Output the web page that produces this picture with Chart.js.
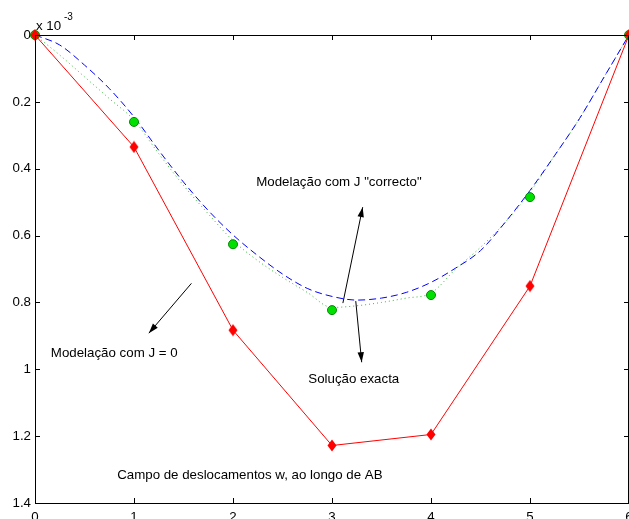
<!DOCTYPE html>
<html>
<head>
<meta charset="utf-8">
<script src="https://cdn.jsdelivr.net/npm/chart.js@4/dist/chart.umd.min.js"></script>
<style>
html,body{margin:0;padding:0;background:#fff;}
#wrap{width:629px;height:519px;position:relative;}
</style>
</head>
<body>
<div id="wrap"><canvas id="c" width="629" height="519"></canvas></div>
<script>
// ---- data ----
const nodeX = [0, 1, 2, 3, 4, 5, 6];
const wJzero = [0, 0.335, 0.883, 1.228, 1.195, 0.751, 0];
const wNodesExact = [0, 0.26, 0.626, 0.823, 0.778, 0.485, 0];
const curveX = [0,0.25,0.5,0.75,1,1.25,1.5,1.75,2,2.25,2.5,2.75,3,3.25,3.5,3.75,4,4.25,4.5,4.75,5,5.25,5.5,5.75,6];
const wJcorrecto = [0,0.03,0.09,0.16,0.245,0.345,0.44,0.525,0.598,0.66,0.715,0.758,0.782,0.793,0.787,0.77,0.74,0.697,0.645,0.56,0.465,0.36,0.25,0.125,0];
const wExacta = [0,0.06,0.125,0.19,0.255,0.355,0.45,0.535,0.615,0.675,0.725,0.77,0.815,0.81,0.8,0.787,0.772,0.7,0.635,0.56,0.47,0.36,0.25,0.125,0];
const xTicks = [0,1,2,3,4,5,6];
const yTicks = [0,0.2,0.4,0.6,0.8,1,1.2,1.4];
const annotations = [
  {text: 'Modelação com J "correcto"', x: 3.07, y: 0.44, align: 'center'},
  {text: 'Solução exacta', x: 3.22, y: 1.03, align: 'center'},
  {text: 'Modelação com J = 0', x: 0.16, y: 0.952, align: 'left'},
  {text: 'Campo de deslocamentos w, ao longo de AB', x: 0.83, y: 1.317, align: 'left'}
];
const arrows = [
  {x0: 3.11, y0: 0.802, x1: 3.31, y1: 0.515},
  {x0: 3.24, y0: 0.796, x1: 3.30, y1: 0.979},
  {x0: 1.58, y0: 0.743, x1: 1.15, y1: 0.892}
];

const FONT = '"Liberation Sans", Arial, Helvetica, sans-serif';
const FS = 13.3;

// diamond marker
const dia = document.createElement('canvas');
dia.width = 10; dia.height = 13;
(function(){
  const g = dia.getContext('2d');
  g.fillStyle = '#ff0000';
  g.beginPath();
  g.moveTo(5, 0.5); g.lineTo(9.5, 6.5); g.lineTo(5, 12.5); g.lineTo(0.5, 6.5); g.closePath();
  g.fill();
})();

const toXY = (xs, ys) => xs.map((x, i) => ({x: x, y: ys[i]}));

const deco = {
  id: 'deco',
  afterDraw(chart) {
    const ctx = chart.ctx, a = chart.chartArea;
    const xs = chart.scales.x, ys = chart.scales.y;
    ctx.save();
    ctx.strokeStyle = '#000';
    ctx.fillStyle = '#000';
    ctx.lineWidth = 1;
    // box top & right
    ctx.beginPath();
    ctx.moveTo(a.left, a.top + 0.5); ctx.lineTo(a.right, a.top + 0.5);
    ctx.moveTo(a.right - 0.5, a.top); ctx.lineTo(a.right - 0.5, a.bottom);
    ctx.stroke();
    // inward ticks
    ctx.beginPath();
    xTicks.forEach(v => {
      const px = Math.round(xs.getPixelForValue(v)) + 0.5;
      ctx.moveTo(px, a.bottom); ctx.lineTo(px, a.bottom - 5);
      ctx.moveTo(px, a.top); ctx.lineTo(px, a.top + 5);
    });
    yTicks.forEach(v => {
      const py = Math.round(ys.getPixelForValue(v)) + 0.5;
      ctx.moveTo(a.left, py); ctx.lineTo(a.left + 5, py);
      ctx.moveTo(a.right, py); ctx.lineTo(a.right - 5, py);
    });
    ctx.stroke();
    // exponent label
    ctx.textBaseline = 'alphabetic';
    ctx.textAlign = 'left';
    ctx.font = FS + 'px ' + FONT;
    ctx.fillText('x 10', a.left + 1, a.top - 5.5);
    ctx.font = '10px ' + FONT;
    ctx.fillText('-3', a.left + 29, a.top - 15);
    // annotations
    ctx.font = FS + 'px ' + FONT;
    ctx.textBaseline = 'middle';
    annotations.forEach(t => {
      ctx.textAlign = t.align;
      ctx.fillText(t.text, xs.getPixelForValue(t.x), ys.getPixelForValue(t.y));
    });
    // arrows
    arrows.forEach(r => {
      const x0 = xs.getPixelForValue(r.x0), y0 = ys.getPixelForValue(r.y0);
      const x1 = xs.getPixelForValue(r.x1), y1 = ys.getPixelForValue(r.y1);
      const ang = Math.atan2(y1 - y0, x1 - x0);
      ctx.beginPath();
      ctx.moveTo(x0, y0); ctx.lineTo(x1, y1);
      ctx.stroke();
      const L = 10, W = 3.2;
      ctx.beginPath();
      ctx.moveTo(x1, y1);
      ctx.lineTo(x1 - L * Math.cos(ang) + W * Math.sin(ang), y1 - L * Math.sin(ang) - W * Math.cos(ang));
      ctx.lineTo(x1 - L * Math.cos(ang) - W * Math.sin(ang), y1 - L * Math.sin(ang) + W * Math.cos(ang));
      ctx.closePath();
      ctx.fill();
    });
    ctx.restore();
  }
};

new Chart(document.getElementById('c'), {
  type: 'line',
  data: {
    datasets: [
      {label: 'J = 0', data: toXY(nodeX, wJzero), borderColor: '#ff0000', borderWidth: 1,
       pointStyle: dia, pointRadius: 5, tension: 0, clip: false, order: 0},
      {label: 'nós', data: toXY(nodeX, wNodesExact), showLine: false, pointStyle: 'circle',
       pointRadius: 4.5, pointBackgroundColor: '#00e000', pointBorderColor: '#008800', pointBorderWidth: 1, clip: false, order: 1},
      {label: 'J correcto', data: toXY(curveX, wJcorrecto), borderColor: '#0000ff', borderWidth: 1,
       borderDash: [7, 4], pointRadius: 0, cubicInterpolationMode: 'monotone', order: 2},
      {label: 'exacta', data: toXY(curveX, wExacta), borderColor: '#33bb33', borderWidth: 1,
       borderDash: [1, 3], pointRadius: 0, cubicInterpolationMode: 'monotone', order: 3}
    ]
  },
  options: {
    responsive: false,
    animation: false,
    events: [],
    layout: {autoPadding: false, padding: {top: 35, right: 0, left: 0, bottom: 0}},
    plugins: {legend: {display: false}, tooltip: {enabled: false}},
    scales: {
      x: {
        type: 'linear', min: 0, max: 6,
        afterBuildTicks: s => { s.ticks = xTicks.map(v => ({value: v})); },
        afterFit: s => { s.height = 16; s.paddingRight = 0; s.paddingLeft = 0; },
        grid: {display: true, drawOnChartArea: false, drawTicks: false},
        border: {display: true, color: '#000', width: 1},
        ticks: {color: '#000', font: {family: FONT, size: FS}, padding: 6, maxRotation: 0, autoSkip: false}
      },
      y: {
        type: 'linear', min: 0, max: 1.4, reverse: true,
        afterBuildTicks: s => { s.ticks = yTicks.map(v => ({value: v})); },
        afterFit: s => { s.width = 35; s.paddingTop = 0; s.paddingBottom = 0; },
        grid: {display: true, drawOnChartArea: false, drawTicks: false},
        border: {display: true, color: '#000', width: 1},
        ticks: {color: '#000', font: {family: FONT, size: FS}, padding: 4, autoSkip: false,
                callback: v => String(Math.round(v * 10) / 10)}
      }
    }
  },
  plugins: [deco]
});
</script>
</body>
</html>
